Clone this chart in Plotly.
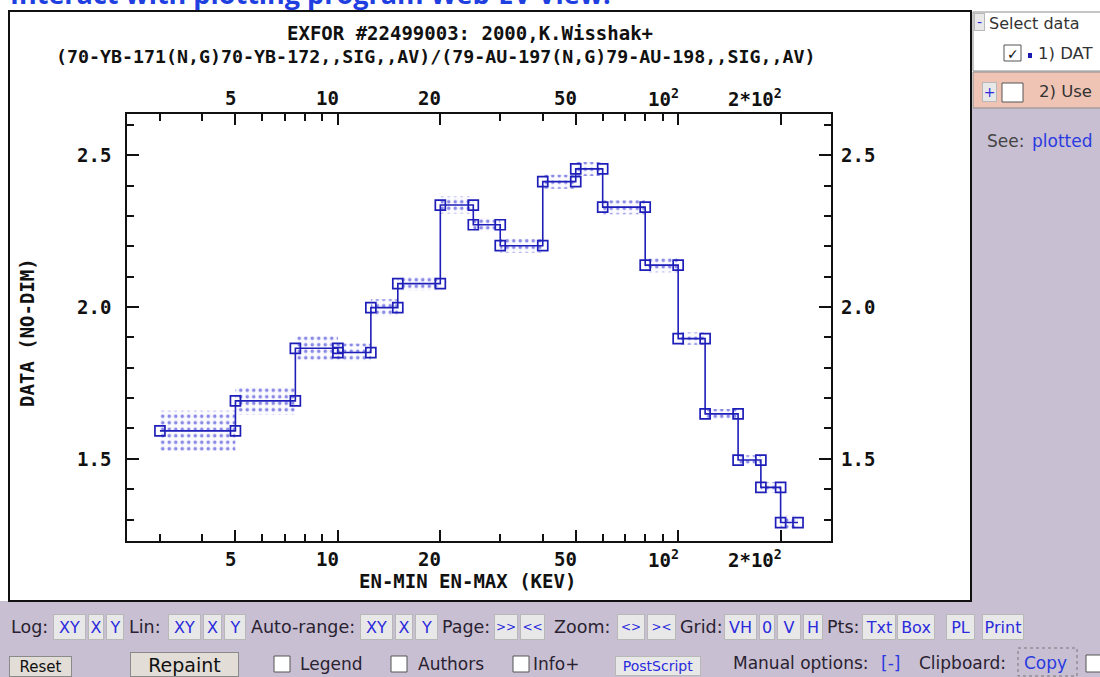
import math
import plotly.graph_objects as go

# ---------------- data ----------------
en_min = [3, 5, 7.5, 10, 12.5, 15, 20, 25, 30, 40, 50, 60, 80, 100, 120, 150, 175, 200]
en_max = [5, 7.5, 10, 12.5, 15, 20, 25, 30, 40, 50, 60, 80, 100, 120, 150, 175, 200, 225]
ratio = [1.592, 1.691, 1.864, 1.850, 1.998, 2.077, 2.336, 2.271, 2.202, 2.413,
         2.455, 2.329, 2.138, 1.896, 1.648, 1.496, 1.406, 1.290]
ratio_err = [0.066, 0.046, 0.040, 0.030, 0.028, 0.023, 0.028, 0.023, 0.023, 0.023,
             0.023, 0.023, 0.023, 0.020, 0.016, 0.016, 0.018, 0.023]

x_major = [5, 10, 20, 50, 100, 200]
x_major_text = ["5", "10", "20", "50", "10<sup>2</sup>", "2*10<sup>2</sup>"]
x_minor = [3, 4, 6, 7, 8, 9, 30, 40, 60, 70, 80, 90]
y_major = [1.5, 2.0, 2.5]
y_major_text = ["1.5", "2.0", "2.5"]
y_minor = [1.3, 1.4, 1.6, 1.7, 1.8, 1.9, 2.1, 2.2, 2.3, 2.4, 2.6]

title_line1 = "EXFOR #22499003: 2000,K.Wisshak+"
title_line2 = "(70-YB-171(N,G)70-YB-172,,SIG,,AV)/(79-AU-197(N,G)79-AU-198,,SIG,,AV)"
x_title = "EN-MIN EN-MAX (KEV)"
y_title = "DATA (NO-DIM)"

# ---------------- geometry helpers ----------------
W, H = 1100, 677
L, R, T, B = 127, 831, 114, 541


def fx(p):
    return (p - L) / (R - L)


def fy(p):
    return (B - p) / (B - T)


BLUE = "#1e1eb8"
MONO = "DejaVu Sans Mono"
UI = "DejaVu Sans"
LAV = "#c8bfd3"
INK = "#111"

# ---------------- traces ----------------
band_x, band_y = [], []
for a, b, v, e in zip(en_min, en_max, ratio, ratio_err):
    band_x += [a, b, b, a, a, None]
    band_y += [v - e, v - e, v + e, v + e, v - e, None]

step_x, step_y = [], []
for a, b, v in zip(en_min, en_max, ratio):
    step_x += [a, b]
    step_y += [v, v]

fig = go.Figure()
fig.add_trace(go.Scatter(
    x=band_x, y=band_y, mode="lines", fill="toself",
    line=dict(width=0, color="rgba(0,0,0,0)"),
    fillcolor="rgba(235,235,252,0.2)",
    fillpattern=dict(shape=".", fgcolor="#1c1cd0", bgcolor="rgba(240,240,253,0.25)",
                     size=6.5, solidity=0.24),
    hoverinfo="skip", showlegend=False))
fig.add_trace(go.Scatter(
    x=step_x, y=step_y, mode="lines+markers",
    line=dict(color=BLUE, width=1.6),
    marker=dict(symbol="square-open", size=10, color=BLUE, line=dict(width=1.7, color=BLUE)),
    showlegend=False))

# ---------------- decorations ----------------
shapes = []
ann = []


def rect(x0, y0, x1, y1, fill=None, line=None, lw=1, dash=None, layer="below"):
    d = dict(type="rect", xref="paper", yref="paper", x0=fx(x0), x1=fx(x1),
             y0=fy(y0), y1=fy(y1), layer=layer,
             fillcolor=fill if fill else "rgba(0,0,0,0)",
             line=dict(width=lw if line else 0, color=line if line else "rgba(0,0,0,0)"))
    if dash:
        d["line"]["dash"] = dash
    shapes.append(d)


def text(t, x, y, size=17.5, color="#222", family=UI, anchor="left", bold=False, angle=0):
    ann.append(dict(xref="paper", yref="paper", x=fx(x), y=fy(y), text=t, showarrow=False,
                    xanchor=anchor, yanchor="middle", textangle=angle,
                    font=dict(family=family, size=size, color=color,
                              weight="bold" if bold else "normal")))


def button(t, x0, x1, yc, h=26, color="#2b2bdc", bg="#e8e8e8", border="#b8b8b8", size=16):
    ann.append(dict(xref="paper", yref="paper", x=fx((x0 + x1) / 2), y=fy(yc), text=t,
                    showarrow=False, xanchor="center", yanchor="middle",
                    width=max(x1 - x0 - 2, 4), height=h - 2, borderpad=0, borderwidth=1,
                    bgcolor=bg, bordercolor=border,
                    font=dict(family=UI, size=size, color=color)))


def checkbox(x0, y0, x1, y1, checked=False):
    rect(x0, y0, x1, y1, fill="white", line="#555", lw=1, layer="above")
    if checked:
        text("<b>✓</b>", (x0 + x1) / 2, (y0 + y1) / 2 + 1, size=14, color="#111", anchor="center")


# backgrounds
rect(0, 601, 1100, 677, fill=LAV)
rect(972, 108, 1100, 601, fill=LAV)
rect(973, 12, 1101, 71, fill="white", line="#8c8c8c")
rect(973, 72, 1101, 108, fill="#efc4b4", line="#8c8c8c")
rect(9, 11, 971, 601, line=INK, lw=2, layer="above")

# heading (cut by top edge, as in the reference)
text("Interact with plotting program Web-EV View:", 8, -6, size=27, color="#1f3fe0",
     family="Open Sans", bold=True)

# titles
text(title_line1, 470, 33, size=19, color=INK, family=MONO, anchor="center", bold=True)
text(title_line2, 435, 56, size=18.3, color=INK, family=MONO, anchor="center", bold=True)
text(x_title, 467, 581, size=19, color=INK, family=MONO, anchor="center", bold=True)
text(y_title, 27, 332, size=19, color=INK, family=MONO, anchor="center", bold=True, angle=-90)

# tick labels
for v, t in zip(x_major, x_major_text):
    for yy in (559, 98):
        ann.append(dict(xref="x", yref="paper", x=math.log10(v), y=fy(yy), text=t,
                        showarrow=False, xanchor="right", yanchor="middle", xshift=3,
                        font=dict(family=MONO, size=19, color=INK, weight="bold")))
for v, t in zip(y_major, y_major_text):
    ann.append(dict(xref="paper", yref="y", x=fx(113), y=v, text=t, showarrow=False,
                    xanchor="right", yanchor="middle",
                    font=dict(family=MONO, size=19, color=INK, weight="bold")))
    ann.append(dict(xref="paper", yref="y", x=fx(839), y=v, text=t, showarrow=False,
                    xanchor="left", yanchor="middle",
                    font=dict(family=MONO, size=19, color=INK, weight="bold")))

# right panel
button("-", 974, 985, 22, h=18, size=14)
text("Select data", 987, 23, size=16, color="#333")
checkbox(1004, 45, 1021, 61, checked=True)
rect(1028, 53, 1032, 58, fill="#1a1ab0", layer="above")
text("1) DAT", 1036, 53, size=16.5, color="#333")
button("+", 982, 997, 92, h=20, size=14)
checkbox(1002, 83, 1023, 102)
text("2) Use", 1037, 92, size=16.5, color="#333")
text("See:", 985, 141, size=17, color="#444")
text("plotted", 1030, 141, size=17, color="#2a3ae0")

# bottom toolbar row 1
r1 = 627
row1 = [
    ("t", "Log:", 9), ("b", "XY", 53, 86), ("b", "X", 88, 104), ("b", "Y", 106, 124),
    ("t", "Lin:", 127), ("b", "XY", 168, 201), ("b", "X", 203, 222), ("b", "Y", 224, 246),
    ("t", "Auto-range:", 249), ("b", "XY", 360, 393), ("b", "X", 395, 413), ("b", "Y", 415, 438),
    ("t", "Page:", 440), ("b", "&gt;&gt;", 494, 518), ("b", "&lt;&lt;", 520, 545),
    ("t", "Zoom:", 552), ("b", "&lt;&gt;", 617, 645), ("b", "&gt;&lt;", 647, 676),
    ("t", "Grid:", 678), ("b", "VH", 724, 757), ("b", "0", 759, 775), ("b", "V", 777, 801),
    ("b", "H", 803, 823), ("t", "Pts:", 825), ("b", "Txt", 862, 896), ("b", "Box", 897, 935),
    ("b", "PL", 946, 975), ("b", "Print", 982, 1024),
]
for it in row1:
    if it[0] == "t":
        text(it[1], it[2], r1, size=17.5, color="#2a2230")
    else:
        sz = 12 if ("&" in it[1]) else 16
        button(it[1], it[2], it[3], r1, size=sz)

# bottom toolbar row 2 (kept inside the bottom edge)
button("Reset", 9, 72, 666, h=21, color="#111", bg="#e2ddd6", border="#8a8a8a", size=15)
button("Repaint", 130, 239, 664, h=25, color="#111", bg="#e2ddd6", border="#8a8a8a", size=19)
checkbox(274, 656, 290, 672)
text("Legend", 298, 664, size=17, color="#2a2230")
checkbox(391, 656, 407, 672)
text("Authors", 416, 664, size=17, color="#2a2230")
checkbox(513, 656, 529, 672)
text("Info+", 531, 664, size=17, color="#2a2230")
button("PostScript", 615, 701, 666, h=20, size=14)
text("Manual options:", 731, 663, size=17, color="#2a2230")
text("[-]", 879, 663, size=17, color="#2a3ae0")
text("Clipboard:", 917, 663, size=17, color="#2a2230")
rect(1018, 648, 1077, 676, line="#777", lw=1, dash="dot")
text("Copy", 1022, 663, size=17, color="#2a3ae0")
checkbox(1086, 655, 1102, 672)

# ---------------- layout ----------------
fig.update_layout(
    width=W, height=H, autosize=False,
    margin=dict(l=L, r=W - R, t=T, b=H - B, pad=0),
    paper_bgcolor="white", plot_bgcolor="white", showlegend=False,
    shapes=shapes, annotations=ann,
    xaxis=dict(type="log", range=[0.3803, 2.4491], showline=True, linecolor=INK,
               linewidth=2, mirror="ticks", ticks="inside", tickvals=x_major, ticklen=11,
               tickwidth=1.5, tickcolor=INK, showticklabels=False, showgrid=False,
               zeroline=False,
               minor=dict(tickvals=x_minor, ticks="inside", ticklen=7, tickwidth=1.5,
                          tickcolor=INK, showgrid=False)),
    yaxis=dict(range=[1.2293, 2.6359], showline=True, linecolor=INK, linewidth=2,
               mirror="ticks", ticks="inside", tickvals=y_major, ticklen=12, tickwidth=1.5,
               tickcolor=INK, showticklabels=False, showgrid=False, zeroline=False,
               minor=dict(tickvals=y_minor, ticks="inside", ticklen=7, tickwidth=1.5,
                          tickcolor=INK, showgrid=False)),
)

fig.write_html("out.html", config={"displayModeBar": False},
               post_script="document.body.style.margin='0';document.body.style.overflow='hidden';")
